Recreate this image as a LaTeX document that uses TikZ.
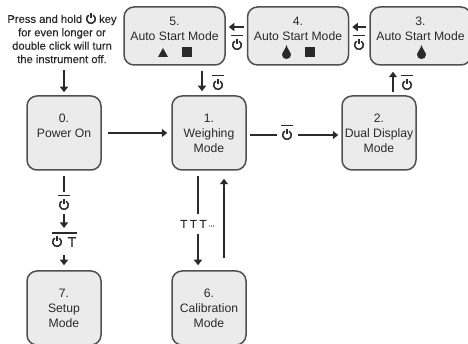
\documentclass[tikz,border=0pt]{standalone}
\usepackage{fontspec}
\setmainfont{Liberation Sans}
\newfontfamily\notefont[FakeBold=0.35]{Liberation Sans}
\newfontfamily\tarefont[FakeBold=0.8]{Liberation Sans}
\usetikzlibrary{arrows.meta,calc}
\definecolor{ink}{HTML}{2A2A2A}
\definecolor{boxfill}{HTML}{EBEBEB}
\definecolor{boxline}{HTML}{505050}
\tikzset{
  x=1pt,y=1pt,
  modebox/.style={draw=boxline,fill=boxfill,line width=1.5pt,rounded corners=10pt,align=center,inner sep=0pt,text=ink,font=\fontsize{12.2}{15}\selectfont},
  wide/.style={modebox,minimum width=101pt,minimum height=58pt},
  square/.style={modebox,minimum width=74pt,minimum height=74pt},
  conn/.style={draw=ink,line width=1.9pt},
  arrow/.style={conn,-{Triangle[length=5.5pt,width=8pt]}},
  pwr/.pic={
    \draw[ink,line width=1.5pt] (60:4.4) arc[start angle=60,end angle=-240,radius=4.4];
    \draw[ink,line width=1.5pt] (0,6) -- (0,0.5);
  },
  pwrbar/.pic={
    \pic {pwr};
    \draw[ink,line width=1.2pt] (-6,9.5) -- (6,9.5);
  },
  tri/.pic={\fill[ink] (-5,-4.5) -- (5,-4.5) -- (0,4.5) -- cycle;},
  sq/.pic={\fill[ink] (-5,-5) rectangle (5,5);},
  drop/.pic={\fill[ink] (0,7) .. controls (0.5,4) and (4.5,-1) .. (4.5,-2.5) .. controls (4.5,-5.5) and (2.5,-7) .. (0,-7) .. controls (-2.5,-7) and (-4.5,-5.5) .. (-4.5,-2.5) .. controls (-4.5,-1) and (-0.5,4) .. (0,7) -- cycle;}
}
\begin{document}
\begin{tikzpicture}
\path[use as bounding box,clip] (0,0) rectangle (468,344);
\fill[white] (0,0) rectangle (468,344);
% boxes
\node[wide] (b5) at (174.5,308) {5.\\Auto Start Mode\\ \mbox{}};
\node[wide] (b4) at (298,308) {4.\\Auto Start Mode\\ \mbox{}};
\node[wide] (b3) at (420.5,308) {3.\\Auto Start Mode\\ \mbox{}};
\node[square] (b0) at (64,211) {0.\\Power On\\ \mbox{}};
\node[square] (b1) at (209,211) {1.\\Weighing\\Mode};
\node[square] (b2) at (379,211) {2.\\Dual Display\\Mode};
\node[square] (b7) at (64,36) {7.\\Setup\\Mode};
\node[square] (b6) at (209,36) {6.\\Calibration\\Mode};
% note
\node[align=center,inner sep=0pt,text=ink,font=\notefont\fontsize{11.2}{13.4}\selectfont] (note) at (62,305)
  {Press and hold \hspace{10.8pt} key\\for even longer or\\double click will turn\\the instrument off.};
\pic at (91,325) {pwr};
% box symbols
\pic at (163,291.5) {tri};
\pic at (187,292) {sq};
\pic at (286.5,292) {drop};
\pic at (310,292) {sq};
\pic at (421.5,292) {drop};
% labels
\coordinate (p12) at (287,209);
\coordinate (k1) at (64,139);
\coordinate (k2) at (57,102);
\coordinate (c51) at ([xshift=-7pt]b1.north);
\coordinate (c23) at ([xshift=14pt]b2.north);
\coordinate (c34) at ([yshift=9pt]b3.west);
\coordinate (c45) at ([yshift=9pt]b4.west);
\coordinate (c16) at ([xshift=-11pt]b1.south);
\coordinate (c61) at ([xshift=15pt]b6.north);
\pic at (218,259) {pwrbar};
\pic at (407,259) {pwrbar};
\pic at (359,299) {pwrbar};
\pic at (237,299) {pwrbar};
\pic at (p12) {pwrbar};
\pic at (k1) {pwrbar};
\pic at (k2) {pwr};
\draw[ink,line width=1.2pt] (52,111) -- (77,111);
\node[inner sep=0pt,text=ink,font=\tarefont\fontsize{14}{14}\selectfont] (t7) at (72,102) {T};
\node[inner sep=0pt,text=ink,font=\tarefont\fontsize{11.5}{12}\selectfont] (tk) at (197.5,120) {T\hspace{2.6pt}T\hspace{2.6pt}T\hspace{1.5pt}\raisebox{1.5pt}{\fontsize{8}{8}\selectfont...}};
% connectors
\draw[arrow,shorten <=7pt,shorten >=3pt] (b0.north |- note.south) -- (b0.north);
\draw[arrow,shorten <=6pt,shorten >=4pt] (b0.east) -- (b1.west);
\draw[arrow,shorten <=5pt,shorten >=4pt] (c51 |- b5.south) -- (c51);
\draw[conn,shorten <=3pt,shorten >=10pt] (b1.east |- p12) -- (p12);
\draw[arrow,shorten <=11pt,shorten >=3pt] (p12) -- (b2.west |- p12);
\draw[arrow,shorten <=3pt,shorten >=6pt] (c23) -- (c23 |- b3.south);
\draw[arrow,shorten <=3pt,shorten >=3pt] (c34) -- (c34 -| b4.east);
\draw[arrow,shorten <=3pt,shorten >=3pt] (c45) -- (c45 -| b5.east);
\draw[conn,shorten <=5pt,shorten >=13pt] (b0.south) -- (k1);
\draw[arrow,shorten <=9pt,shorten >=14pt] (k1) -- (k1 |- k2);
\draw[arrow,shorten <=13pt,shorten >=5pt] (k1 |- k2) -- (b7.north);
\draw[conn,shorten <=5pt,shorten >=6pt] (c16) -- (c16 |- tk.north);
\draw[arrow,shorten <=6pt,shorten >=5pt] (c16 |- tk.south) -- (c16 |- b6.north);
\draw[arrow,shorten <=12pt,shorten >=8pt] (c61) -- (c61 |- b1.south);
\end{tikzpicture}
\end{document}
